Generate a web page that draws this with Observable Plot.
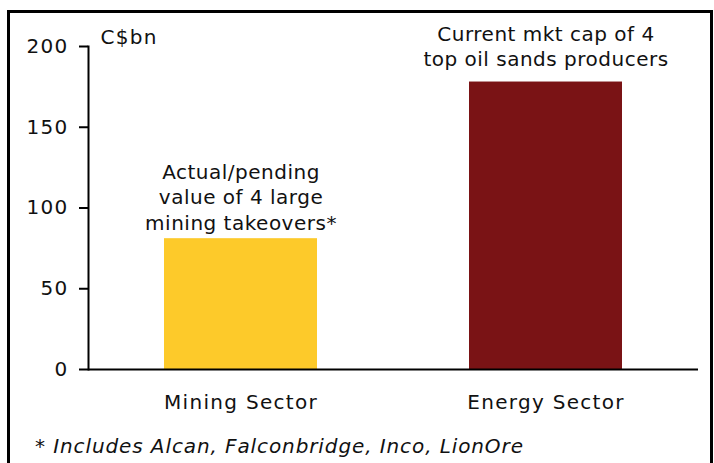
<!DOCTYPE html>
<html>
<head>
<meta charset="utf-8">
<script src="https://cdn.jsdelivr.net/npm/d3@7"></script>
<script src="https://cdn.jsdelivr.net/npm/@observablehq/plot@0.6"></script>
<style>
  html, body { margin: 0; padding: 0; background: #fff; }
  #wrap { position: relative; width: 714px; height: 463px; overflow: hidden; font-family: "DejaVu Sans", Verdana, sans-serif; }
  #frame { position: absolute; left: 7px; top: 10px; width: 700px; height: 470px; border: 3px solid #000; box-sizing: content-box; }
  #chart { position: absolute; left: 0; top: 0; }
  #chart svg text { letter-spacing: 1.3px; }
  #chart svg text.annot { letter-spacing: 0.5px; }
  #note { position: absolute; left: 35px; top: 434px; font-style: italic; font-size: 20px; letter-spacing: 0.9px; color: #111; white-space: nowrap; }
</style>
</head>
<body>
<div id="wrap">
  <div id="frame"></div>
  <div id="chart"></div>
  <div id="note"></div>
</div>
<script>
const categories = ["Mining Sector", "Energy Sector"];
const values = [81, 178];
const annotations = ["Actual/pending\nvalue of 4 large\nmining takeovers*", "Current mkt cap of 4\ntop oil sands producers"];
const colors = ["#FDCA2A", "#7A1315"];
const yTicks = [0, 50, 100, 150, 200];
const unitLabel = "C$bn";
const footnote = "* Includes Alcan, Falconbridge, Inco, LionOre";

const data = categories.map((c, i) => ({category: c, value: values[i], note: annotations[i], color: colors[i]}));

const chart = Plot.plot({
  width: 714,
  height: 463,
  marginLeft: 88,
  marginRight: 16,
  marginTop: 46,
  marginBottom: 94,
  style: {fontFamily: "'DejaVu Sans', Verdana, sans-serif", fontSize: "20px", color: "#111", background: "transparent"},
  x: {domain: categories, paddingInner: 0.5, paddingOuter: 0.25, label: null},
  y: {domain: [0, 200], label: null},
  marks: [
    Plot.barY(data, {x: "category", y: "value", fill: "color"}),
    Plot.ruleY([0], {stroke: "#000", strokeWidth: 2}),
    Plot.frame({anchor: "left", stroke: "#000", strokeWidth: 2}),
    Plot.axisY({ticks: yTicks, tickSize: 9, tickPadding: 11, label: null, stroke: "#000", strokeWidth: 2, fontSize: 20}),
    Plot.axisX({tickSize: 0, tickPadding: 25, label: null, fontSize: 20}),
    Plot.text(data.filter(d => d.category === categories[0]), {x: "category", y: "value", text: "note", lineAnchor: "bottom", dy: -9, lineHeight: 1.27, fontSize: 20}),
    Plot.text(data.filter(d => d.category === categories[1]), {x: "category", y: "value", text: "note", lineAnchor: "bottom", dy: -16, lineHeight: 1.27, fontSize: 20}),
    Plot.text([unitLabel], {frameAnchor: "top-left", text: d => d, textAnchor: "start", lineAnchor: "bottom", dx: 12, dy: -3, fontSize: 20})
  ]
});
// annotation text groups: the last three text marks are the two notes and the unit label
const textGroups = d3.select(chart).selectAll('g[aria-label="text"]').nodes();
textGroups.slice(0, 2).forEach(g => d3.select(g).selectAll("text").classed("annot", true));
document.getElementById("chart").appendChild(chart);
document.getElementById("note").textContent = footnote;
</script>
</body>
</html>
